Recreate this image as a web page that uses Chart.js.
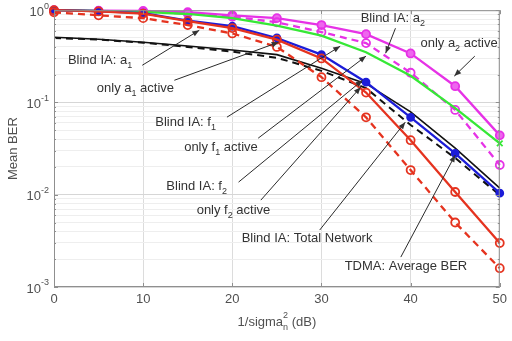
<!DOCTYPE html>
<html lang="en">
<head>
    <meta charset="UTF-8" />
    <title>Mean BER vs 1/sigma_n^2</title>
    <script src="https://cdn.jsdelivr.net/npm/chart.js"></script>
    <style>
        * { margin: 0; padding: 0; box-sizing: border-box; }
        body { background: #ffffff; }
        .chart-box { width: 512px; height: 341px; }
    </style>
</head>
<body>
    <div class="chart-box"><canvas id="berChart"></canvas></div>

    <script>
        // x axis: 1/sigma_n^2 in dB
        const snrDb = [0, 5, 10, 15, 20, 25, 30, 35, 40, 45, 50];

        // mean BER per curve
        const onlyA2 = [1.0, 0.99, 0.98, 0.95, 0.88, 0.82, 0.69, 0.55, 0.34, 0.15, 0.044];      // magenta solid
        const blindA2 = [0.99, 0.98, 0.96, 0.92, 0.85, 0.74, 0.58, 0.44, 0.21, 0.083, 0.021];   // magenta dashed
        const onlyF1 = [1.0, 0.98, 0.96, 0.91, 0.82, 0.68, 0.53, 0.35, 0.195, 0.087, 0.036];    // green
        const blindF2 = [1.0, 0.975, 0.93, 0.77, 0.67, 0.50, 0.33, 0.166, 0.069, 0.028, 0.0104]; // blue
        const onlyA1 = [1.0, 0.97, 0.92, 0.76, 0.64, 0.48, 0.30, 0.128, 0.039, 0.0107, 0.0030];  // red solid
        const blindA1 = [0.95, 0.88, 0.82, 0.69, 0.56, 0.40, 0.188, 0.069, 0.0185, 0.0050, 0.0016]; // red dashed
        const tdmaAvg = [0.51, 0.485, 0.45, 0.41, 0.37, 0.33, 0.235, 0.16, 0.079, 0.032, 0.0118];   // black solid
        const blindTotal = [0.50, 0.48, 0.445, 0.40, 0.355, 0.305, 0.22, 0.143, 0.057, 0.025, 0.0099]; // black dashed

        const xTicks = [0, 10, 20, 30, 40, 50];
        const yExponents = [0, -1, -2, -3];

        // text callouts: label parts, text anchor, arrow start, arrow tip (data coords)
        const callouts = [
            { parts: [["Blind IA: a"], ["1", "sub"]], at: [1.56, 0.287], from: [9.9, 0.253], to: [16.3, 0.607] },
            { parts: [["only a"], ["1", "sub"], [" active"]], at: [4.8, 0.143], from: [13.5, 0.174], to: [25.2, 0.45] },
            { parts: [["Blind IA: f"], ["1", "sub"]], at: [11.36, 0.0612], from: [19.4, 0.0693], to: [32.1, 0.407] },
            { parts: [["only f"], ["1", "sub"], [" active"]], at: [14.6, 0.0328], from: [22.9, 0.041], to: [35.0, 0.318] },
            { parts: [["Blind IA: f"], ["2", "sub"]], at: [12.6, 0.0124], from: [20.7, 0.0137], to: [34.6, 0.174] },
            { parts: [["only f"], ["2", "sub"], [" active"]], at: [16.0, 0.0068], from: [23.2, 0.00874], to: [34.4, 0.1465] },
            { parts: [["Blind IA: Total Network"]], at: [21.05, 0.00339], from: [29.8, 0.00414], to: [39.4, 0.0612] },
            { parts: [["TDMA: Average BER"]], at: [32.6, 0.00168], from: [38.9, 0.00211], to: [45.0, 0.0269] },
            { parts: [["Blind IA: a"], ["2", "sub"]], at: [34.4, 0.819], from: [38.3, 0.638], to: [37.2, 0.342] },
            { parts: [["only a"], ["2", "sub"], [" active"]], at: [41.1, 0.439], from: [47.2, 0.318], to: [44.9, 0.193] }
        ];

        const FONT = '"Liberation Sans", Arial, sans-serif';
        const TEXT = "#333333";
        const AXIS_TEXT = "#505050";

        const toPoints = (arr) => arr.map((v, i) => ({ x: snrDb[i], y: v }));
        const isDecade = (v) => Math.abs(Math.log10(v) - Math.round(Math.log10(v))) < 1e-6;

        function drawParts(ctx, parts, x, y, size) {
            let cx = x;
            parts.forEach(([t, kind]) => {
                const small = kind === "sub" || kind === "sup";
                ctx.font = `${small ? Math.round(size * 0.72) : size}px ${FONT}`;
                const dy = kind === "sub" ? size * 0.42 : kind === "sup" ? -size * 0.42 : 0;
                ctx.fillText(t, cx, y + dy);
                cx += ctx.measureText(t).width;
            });
            return cx - x;
        }

        function drawArrow(ctx, x1, y1, x2, y2) {
            ctx.beginPath();
            ctx.moveTo(x1, y1);
            ctx.lineTo(x2, y2);
            ctx.stroke();
            const a = Math.atan2(y2 - y1, x2 - x1), L = 7, W = 2.8;
            ctx.beginPath();
            ctx.moveTo(x2, y2);
            ctx.lineTo(x2 - L * Math.cos(a) + W * Math.sin(a), y2 - L * Math.sin(a) - W * Math.cos(a));
            ctx.lineTo(x2 - L * Math.cos(a) - W * Math.sin(a), y2 - L * Math.sin(a) + W * Math.cos(a));
            ctx.closePath();
            ctx.fill();
        }

        const decorPlugin = {
            id: "decor",
            afterDraw(chart) {
                const { ctx, chartArea: area, scales } = chart;
                const sx = scales.x, sy = scales.y;
                ctx.save();

                // box + inward ticks
                ctx.strokeStyle = "#8f8f8f";
                ctx.lineWidth = 1;
                ctx.strokeRect(area.left + 0.5, area.top + 0.5, area.right - area.left - 1, area.bottom - area.top - 1);
                ctx.beginPath();
                xTicks.forEach(t => {
                    const px = Math.round(sx.getPixelForValue(t)) + 0.5;
                    ctx.moveTo(px, area.bottom); ctx.lineTo(px, area.bottom - 4);
                    ctx.moveTo(px, area.top); ctx.lineTo(px, area.top + 4);
                });
                sy.ticks.forEach(t => {
                    const py = Math.round(sy.getPixelForValue(t.value)) + 0.5;
                    const len = isDecade(t.value) ? 4 : 2;
                    ctx.moveTo(area.left, py); ctx.lineTo(area.left + len, py);
                    ctx.moveTo(area.right, py); ctx.lineTo(area.right - len, py);
                });
                ctx.stroke();

                // y tick labels 10^e
                ctx.fillStyle = AXIS_TEXT;
                ctx.textBaseline = "middle";
                ctx.textAlign = "left";
                yExponents.forEach(e => {
                    const py = sy.getPixelForValue(Math.pow(10, e));
                    ctx.font = `9px ${FONT}`;
                    const supW = ctx.measureText(String(e)).width;
                    ctx.font = `13px ${FONT}`;
                    const baseW = ctx.measureText("10").width;
                    const right = area.left - 5;
                    ctx.fillText("10", right - supW - baseW, py + 2);
                    ctx.font = `9px ${FONT}`;
                    ctx.fillText(String(e), right - supW, py - 4);
                });

                // axis titles
                ctx.font = `13px ${FONT}`;
                ctx.save();
                ctx.translate(13, (area.top + area.bottom) / 2);
                ctx.rotate(-Math.PI / 2);
                ctx.textAlign = "center";
                ctx.fillText("Mean BER", 0, 0);
                ctx.restore();

                const cxTitle = (area.left + area.right) / 2;
                const tyTitle = 322;
                ctx.font = `13px ${FONT}`;
                const w1 = ctx.measureText("1/sigma").width;
                ctx.font = `9px ${FONT}`;
                const w2 = Math.max(ctx.measureText("2").width, ctx.measureText("n").width);
                ctx.font = `13px ${FONT}`;
                const w3 = ctx.measureText(" (dB)").width;
                let tx = cxTitle - (w1 + w2 + w3) / 2;
                ctx.fillText("1/sigma", tx, tyTitle);
                tx += w1;
                ctx.font = `9px ${FONT}`;
                ctx.fillText("2", tx, tyTitle - 6);
                ctx.fillText("n", tx, tyTitle + 6);
                tx += w2;
                ctx.font = `13px ${FONT}`;
                ctx.fillText(" (dB)", tx, tyTitle);

                // callouts
                ctx.fillStyle = TEXT;
                ctx.strokeStyle = "#2a2a2a";
                ctx.lineWidth = 1;
                callouts.forEach(c => {
                    drawParts(ctx, c.parts, sx.getPixelForValue(c.at[0]), sy.getPixelForValue(c.at[1]), 13);
                    drawArrow(ctx,
                        sx.getPixelForValue(c.from[0]), sy.getPixelForValue(c.from[1]),
                        sx.getPixelForValue(c.to[0]), sy.getPixelForValue(c.to[1]));
                });

                ctx.restore();
            }
        };

        const series = (data, color, extra) => Object.assign({
            data: toPoints(data),
            borderColor: color,
            backgroundColor: color,
            borderWidth: 2.3,
            pointRadius: 4,
            pointBorderWidth: 1.8,
            pointBorderColor: color,
            pointBackgroundColor: "rgba(0,0,0,0)",
            tension: 0,
            clip: false
        }, extra);

        const ctx = document.getElementById("berChart").getContext("2d");
        new Chart(ctx, {
            type: "line",
            data: {
                datasets: [
                    series(blindA1, "#e5331f", { label: "Blind IA: a1", borderDash: [7, 5] }),
                    series(onlyA1, "#e5331f", { label: "only a1 active" }),
                    series(blindF2, "#1c1cd8", { label: "Blind IA: f2", pointBackgroundColor: "#1c1cd8", pointRadius: 3.5 }),
                    series(blindTotal, "#111111", { label: "Blind IA: Total Network", borderDash: [7, 5], pointRadius: 0, borderWidth: 2 }),
                    series(tdmaAvg, "#111111", { label: "TDMA: Average BER", pointRadius: 0, borderWidth: 1.6 }),
                    series(onlyF1, "#36e836", {
                        label: "only f1 active", pointStyle: "crossRot",
                        pointRadius: (c) => c.dataIndex === snrDb.length - 1 ? 4 : 0
                    }),
                    series(blindA2, "#e632e6", { label: "Blind IA: a2", borderDash: [7, 5] }),
                    series(onlyA2, "#e632e6", { label: "only a2 active", pointBackgroundColor: "#ee66ee" })
                ]
            },
            options: {
                responsive: true,
                maintainAspectRatio: false,
                animation: false,
                layout: { padding: { top: 10, right: 10, left: 0, bottom: 0 } },
                plugins: {
                    legend: { display: false },
                    tooltip: { enabled: false }
                },
                scales: {
                    x: {
                        type: "linear",
                        min: 0,
                        max: 50,
                        afterBuildTicks: (s) => { s.ticks = xTicks.map(v => ({ value: v })); },
                        afterFit: (s) => { s.height = 54; },
                        ticks: {
                            autoSkip: false,
                            maxRotation: 0,
                            padding: 5,
                            color: AXIS_TEXT,
                            font: { family: FONT, size: 13 }
                        },
                        grid: { color: "#dcdcdc", drawTicks: false },
                        border: { display: false }
                    },
                    y: {
                        type: "logarithmic",
                        min: 0.001,
                        max: 1,
                        afterBuildTicks: (s) => {
                            const t = [];
                            for (let e = -3; e <= 0; e++) {
                                for (let k = 1; k <= 9; k++) {
                                    const v = k * Math.pow(10, e);
                                    if (v <= 1.0000001) t.push({ value: v });
                                }
                            }
                            s.ticks = t;
                        },
                        afterFit: (s) => { s.width = 54; },
                        ticks: { autoSkip: false, callback: () => "" },
                        grid: {
                            drawTicks: false,
                            color: (c) => isDecade(c.tick.value) ? "#d6d6d6" : "#eeeeee"
                        },
                        border: { display: false }
                    }
                }
            },
            plugins: [decorPlugin]
        });
    </script>
</body>
</html>
